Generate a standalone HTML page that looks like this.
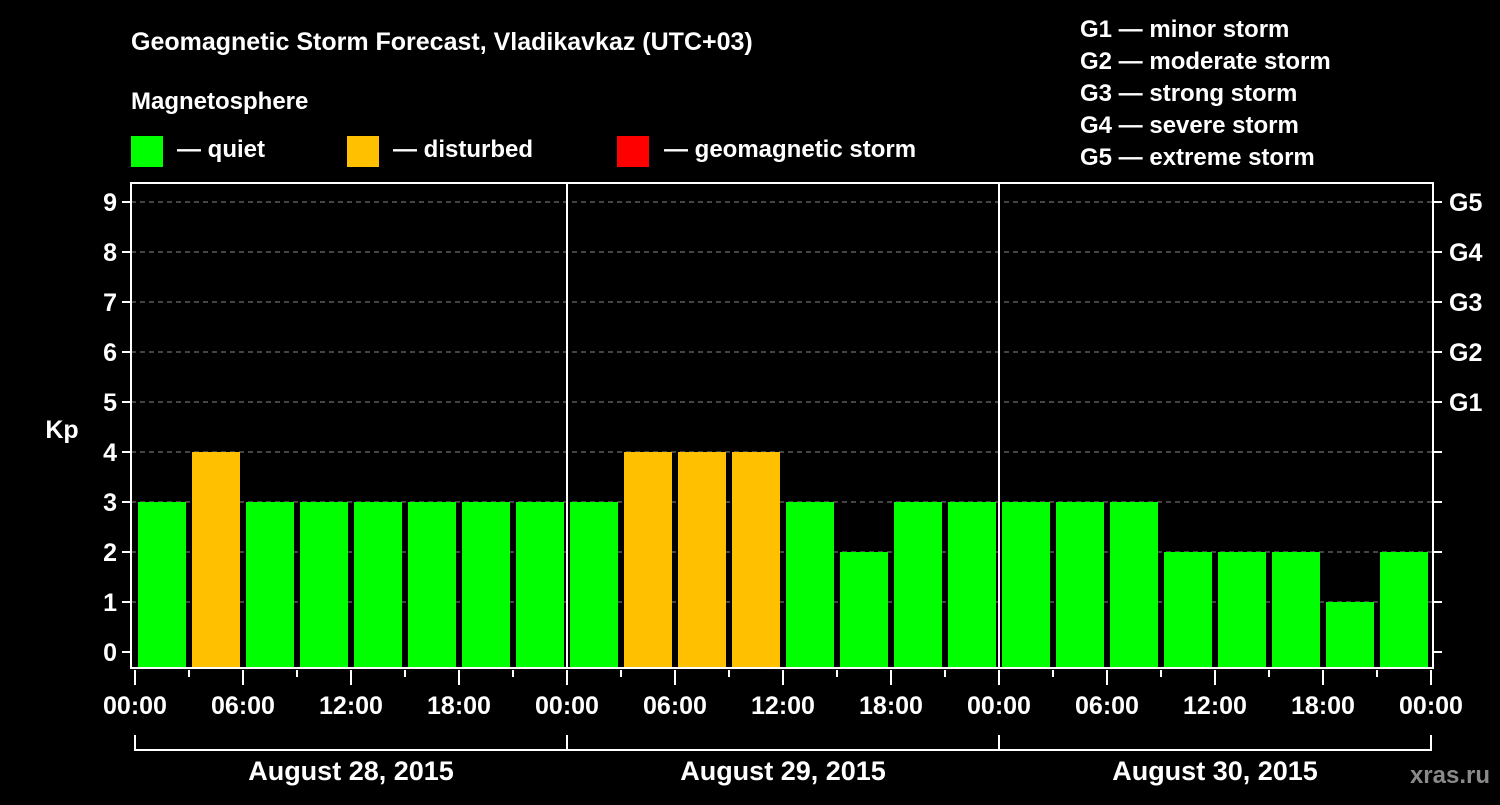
<!DOCTYPE html>
<html><head><meta charset="utf-8"><style>
body{margin:0;background:#000;}
svg text{font-family:"Liberation Sans",sans-serif;font-weight:bold;fill:#fff;}
</style></head><body>
<svg id="c" width="1500" height="800" xmlns="http://www.w3.org/2000/svg">
<rect width="1500" height="800" fill="#000"/>
<text x="131" y="50" font-size="25">Geomagnetic Storm Forecast, Vladikavkaz (UTC+03)</text>
<text x="131" y="109" font-size="24">Magnetosphere</text>
<g><rect x="131" y="136" width="32" height="31" fill="#00ff00"/><text x="177" y="157" font-size="24">— quiet</text></g>
<g><rect x="347" y="136" width="32" height="31" fill="#ffc000"/><text x="393" y="157" font-size="24">— disturbed</text></g>
<g><rect x="617" y="136" width="32" height="31" fill="#ff0000"/><text x="664" y="157" font-size="24">— geomagnetic storm</text></g>
<g font-size="24">
<text x="1080" y="37">G1 — minor storm</text>
<text x="1080" y="69">G2 — moderate storm</text>
<text x="1080" y="101">G3 — strong storm</text>
<text x="1080" y="133">G4 — severe storm</text>
<text x="1080" y="165">G5 — extreme storm</text>
</g>
<text x="62" y="438" font-size="25" text-anchor="middle">Kp</text>
<text x="1490" y="783" font-size="24" text-anchor="end" fill="#888" style="fill:#8a8a8a">xras.ru</text>
<g id="plot"></g>
</svg>
<script>
const days = ["August 28, 2015","August 29, 2015","August 30, 2015"];
const kpValues = [3,4,3,3,3,3,3,3, 3,4,4,4,3,2,3,3, 3,3,3,2,2,2,1,2];
const yTicks = [0,1,2,3,4,5,6,7,8,9];
const gLabels = ["G1","G2","G3","G4","G5"];
const hourLabels = ["00:00","06:00","12:00","18:00"];

const NS="http://www.w3.org/2000/svg";
const g=document.getElementById('plot');
const X0=135, SLOT=54, TOP=183, BOT=668, LEFT=131, RIGHT=1433;
const y=v=>652-v*50;
const x=i=>X0+i*SLOT;
function mk(t,a){const e=document.createElementNS(NS,t);for(const k in a)e.setAttribute(k,a[k]);g.appendChild(e);return e;}

yTicks.forEach(v=>{
  if(v>0){const l=mk('line',{x1:LEFT,x2:RIGHT,y1:y(v),y2:y(v),stroke:'#888','stroke-dasharray':'5,4','stroke-width':1});
  
  }
  const t=mk('line',{x1:LEFT-9,x2:LEFT,y1:y(v),y2:y(v),stroke:'#fff','stroke-width':2});
  
  
  const r=mk('line',{x1:RIGHT,x2:RIGHT+9,y1:y(v),y2:y(v),stroke:'#fff','stroke-width':2});
  
  
  const tx=mk('text',{x:LEFT-14,y:y(v)+9,'font-size':25,'text-anchor':'end'});tx.textContent=v;
  
  
});
gLabels.forEach((s,i)=>{
  const tx=mk('text',{x:RIGHT+16,y:y(5+i)+9,'font-size':25});tx.textContent=s;
  
  
});
kpValues.forEach((v,i)=>{
  const col=v>=5?'#ff0000':v>=4?'#ffc000':'#00ff00';
  const b=mk('rect',{x:x(i)+3,y:y(v),width:48,height:BOT-y(v),fill:col});
  
  
});
for(let d=1;d<days.length;d++){
  const l=mk('line',{x1:x(d*8),x2:x(d*8),y1:TOP,y2:BOT,stroke:'#fff','stroke-width':2});
  
  
}
const fr=mk('path',{d:`M${LEFT} ${TOP}H${RIGHT}V${BOT}H${LEFT}Z`,fill:'none',stroke:'#fff','stroke-width':2});


for(let i=0;i<=kpValues.length;i++){
  const major=i%2==0;
  const t=mk('line',{x1:x(i),x2:x(i),y1:BOT+2,y2:BOT+(major?17:9),stroke:'#fff','stroke-width':2});
  
  
  if(major){const tx=mk('text',{x:x(i),y:714,'font-size':25,'text-anchor':'middle'});tx.textContent=hourLabels[(i/2)%4];
  
  }
}
days.forEach((d,k)=>{
  const a=x(k*8),b=x(k*8+8);
  const p=mk('path',{d:`M${a} 735V750H${b}V735`,fill:'none',stroke:'#fff','stroke-width':2});
  
  
  const tx=mk('text',{x:(a+b)/2,y:780,'font-size':27,'text-anchor':'middle'});tx.textContent=d;
  
  
});
</script>
</body></html>
